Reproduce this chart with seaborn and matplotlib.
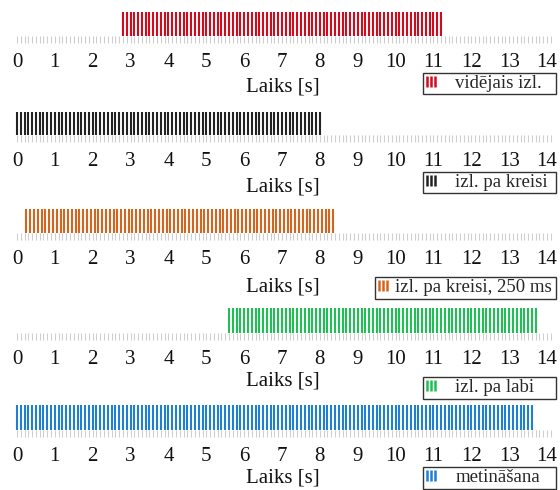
import matplotlib
matplotlib.use("Agg")
import matplotlib.pyplot as plt
import seaborn as sns
from matplotlib.lines import Line2D
from matplotlib.legend_handler import HandlerBase
from matplotlib.ticker import MultipleLocator

# ---------------- data (event times in seconds) ----------------
labels = ["vidējais izl.", "izl. pa kreisi", "izl. pa kreisi, 250 ms",
          "izl. pa labi", "metināšana"]
colors = ["#d20a1e", "#222222", "#d4651c", "#20bf55", "#1f7fd2"]

red_times = [2.8, 2.9, 3.0, 3.1, 3.2, 3.3, 3.4, 3.5, 3.6, 3.7, 3.8, 3.9,
             4.0, 4.1, 4.2, 4.3, 4.4, 4.5, 4.6, 4.7, 4.8, 4.9,
             5.0, 5.1, 5.2, 5.3, 5.4, 5.5, 5.6, 5.7, 5.8, 5.9,
             6.0, 6.1, 6.2, 6.3, 6.4, 6.5, 6.6, 6.7, 6.8, 6.9,
             7.0, 7.1, 7.2, 7.3, 7.4, 7.5, 7.6, 7.7, 7.8, 7.9,
             8.0, 8.1, 8.2, 8.3, 8.4, 8.5, 8.6, 8.7, 8.8, 8.9,
             9.0, 9.1, 9.2, 9.3, 9.4, 9.5, 9.6, 9.7, 9.8, 9.9,
             10.0, 10.1, 10.2, 10.3, 10.4, 10.5, 10.6, 10.7, 10.8, 10.9,
             11.0, 11.1, 11.2]
black_times = [0.0, 0.1, 0.2, 0.3, 0.4, 0.5, 0.6, 0.7, 0.8, 0.9,
               1.0, 1.1, 1.2, 1.3, 1.4, 1.5, 1.6, 1.7, 1.8, 1.9,
               2.0, 2.1, 2.2, 2.3, 2.4, 2.5, 2.6, 2.7, 2.8, 2.9,
               3.0, 3.1, 3.2, 3.3, 3.4, 3.5, 3.6, 3.7, 3.8, 3.9,
               4.0, 4.1, 4.2, 4.3, 4.4, 4.5, 4.6, 4.7, 4.8, 4.9,
               5.0, 5.1, 5.2, 5.3, 5.4, 5.5, 5.6, 5.7, 5.8, 5.9,
               6.0, 6.1, 6.2, 6.3, 6.4, 6.5, 6.6, 6.7, 6.8, 6.9,
               7.0, 7.1, 7.2, 7.3, 7.4, 7.5, 7.6, 7.7, 7.8, 7.9,
               8.0]
orange_times = [0.25, 0.35, 0.45, 0.55, 0.65, 0.75, 0.85, 0.95,
                1.05, 1.15, 1.25, 1.35, 1.45, 1.55, 1.65, 1.75, 1.85, 1.95,
                2.05, 2.15, 2.25, 2.35, 2.45, 2.55, 2.65, 2.75, 2.85, 2.95,
                3.05, 3.15, 3.25, 3.35, 3.45, 3.55, 3.65, 3.75, 3.85, 3.95,
                4.05, 4.15, 4.25, 4.35, 4.45, 4.55, 4.65, 4.75, 4.85, 4.95,
                5.05, 5.15, 5.25, 5.35, 5.45, 5.55, 5.65, 5.75, 5.85, 5.95,
                6.05, 6.15, 6.25, 6.35, 6.45, 6.55, 6.65, 6.75, 6.85, 6.95,
                7.05, 7.15, 7.25, 7.35, 7.45, 7.55, 7.65, 7.75, 7.85, 7.95,
                8.05, 8.15, 8.25, 8.35]
green_times = [5.6, 5.7, 5.8, 5.9,
               6.0, 6.1, 6.2, 6.3, 6.4, 6.5, 6.6, 6.7, 6.8, 6.9,
               7.0, 7.1, 7.2, 7.3, 7.4, 7.5, 7.6, 7.7, 7.8, 7.9,
               8.0, 8.1, 8.2, 8.3, 8.4, 8.5, 8.6, 8.7, 8.8, 8.9,
               9.0, 9.1, 9.2, 9.3, 9.4, 9.5, 9.6, 9.7, 9.8, 9.9,
               10.0, 10.1, 10.2, 10.3, 10.4, 10.5, 10.6, 10.7, 10.8, 10.9,
               11.0, 11.1, 11.2, 11.3, 11.4, 11.5, 11.6, 11.7, 11.8, 11.9,
               12.0, 12.1, 12.2, 12.3, 12.4, 12.5, 12.6, 12.7, 12.8, 12.9,
               13.0, 13.1, 13.2, 13.3, 13.4, 13.5, 13.6, 13.7]
blue_times = [0.0, 0.1, 0.2, 0.3, 0.4, 0.5, 0.6, 0.7, 0.8, 0.9,
              1.0, 1.1, 1.2, 1.3, 1.4, 1.5, 1.6, 1.7, 1.8, 1.9,
              2.0, 2.1, 2.2, 2.3, 2.4, 2.5, 2.6, 2.7, 2.8, 2.9,
              3.0, 3.1, 3.2, 3.3, 3.4, 3.5, 3.6, 3.7, 3.8, 3.9,
              4.0, 4.1, 4.2, 4.3, 4.4, 4.5, 4.6, 4.7, 4.8, 4.9,
              5.0, 5.1, 5.2, 5.3, 5.4, 5.5, 5.6, 5.7, 5.8, 5.9,
              6.0, 6.1, 6.2, 6.3, 6.4, 6.5, 6.6, 6.7, 6.8, 6.9,
              7.0, 7.1, 7.2, 7.3, 7.4, 7.5, 7.6, 7.7, 7.8, 7.9,
              8.0, 8.1, 8.2, 8.3, 8.4, 8.5, 8.6, 8.7, 8.8, 8.9,
              9.0, 9.1, 9.2, 9.3, 9.4, 9.5, 9.6, 9.7, 9.8, 9.9,
              10.0, 10.1, 10.2, 10.3, 10.4, 10.5, 10.6, 10.7, 10.8, 10.9,
              11.0, 11.1, 11.2, 11.3, 11.4, 11.5, 11.6, 11.7, 11.8, 11.9,
              12.0, 12.1, 12.2, 12.3, 12.4, 12.5, 12.6, 12.7, 12.8, 12.9,
              13.0, 13.1, 13.2, 13.3, 13.4, 13.5, 13.6]
series = [red_times, black_times, orange_times, green_times, blue_times]
x_ticks = list(range(0, 15))
x_label = "Laiks [s]"

# ---------------- style ----------------
sns.set_theme(style="white")
plt.rcParams["font.family"] = ["Liberation Serif", "DejaVu Serif"]

W, H = 560, 490
fig = plt.figure(figsize=(W / 100, H / 100), dpi=100)

# panel geometry in pixels: (bars top, bars bottom)
panels_px = [(12, 36), (112, 135), (209, 233), (308, 333), (405, 430)]
legend_top_px = [73, 172, 277, 377, 467]
legend_box_px = [(423, 556), (423, 556), (375, 556), (423, 556), (423, 556)]
legend_textpad = [1.0, 1.0, 0.35, 1.0, 1.0]
xlabel_pad = [3.5, 4.5, 6.0, 1.5, 1.5]

x_left_px, x_right_px = 15.1, 550.8
xlim = (-0.05, 14.1)


class ThreeBars(HandlerBase):
    def create_artists(self, legend, orig_handle, xdescent, ydescent,
                       width, height, fontsize, trans):
        c = orig_handle.get_color()
        arts = []
        for f in (0.15, 0.5, 0.85):
            x = -xdescent + f * width
            ln = Line2D([x, x], [-ydescent + 0.0 * height, -ydescent + 1.0 * height],
                        color=c, linewidth=1.8, solid_capstyle="butt", transform=trans)
            arts.append(ln)
        return arts


for i, (times, col, lab) in enumerate(zip(series, colors, labels)):
    top, bot = panels_px[i]
    ax = fig.add_axes([x_left_px / W, 1 - bot / H,
                       (x_right_px - x_left_px) / W, (bot - top) / H])
    sns.rugplot(x=times, height=1.0, ax=ax, color=col, linewidth=1.5,
                expand_margins=False)
    ax.set_xlim(*xlim)
    ax.set_ylim(0, 1)
    ax.set_yticks([])
    ax.set_xticks(x_ticks)
    ax.set_xticklabels([str(t) for t in x_ticks])
    ax.xaxis.set_minor_locator(MultipleLocator(0.1))
    ax.tick_params(axis="x", which="both", length=5, width=0.8,
                   color="#cfcfcf", direction="out", bottom=True)
    ax.tick_params(axis="x", which="major", labelsize=15, pad=7.5,
                   labelcolor="#111111")
    for s in ax.spines.values():
        s.set_visible(False)
    ax.set_xlabel(x_label, fontsize=15, color="#111111", labelpad=xlabel_pad[i])
    ax.set_facecolor("none")

    lx0, lx1 = legend_box_px[i]
    ltop = legend_top_px[i]
    handle = Line2D([], [], color=col, label=lab)
    leg = fig.legend(handles=[handle], handler_map={Line2D: ThreeBars()},
                     loc="upper left",
                     bbox_to_anchor=(lx0 / W, 1 - ltop / H - 0.2, (lx1 - lx0) / W, 0.2),
                     mode="expand", fontsize=13.5, frameon=True, fancybox=False,
                     borderpad=0.12, handlelength=0.6, handleheight=0.5,
                     handletextpad=legend_textpad[i], borderaxespad=0.0)
    fr = leg.get_frame()
    fr.set_edgecolor("#333333")
    fr.set_linewidth(1.0)
    fr.set_facecolor("white")
    fr.set_alpha(1)

fig.savefig("out.png", dpi=100)
